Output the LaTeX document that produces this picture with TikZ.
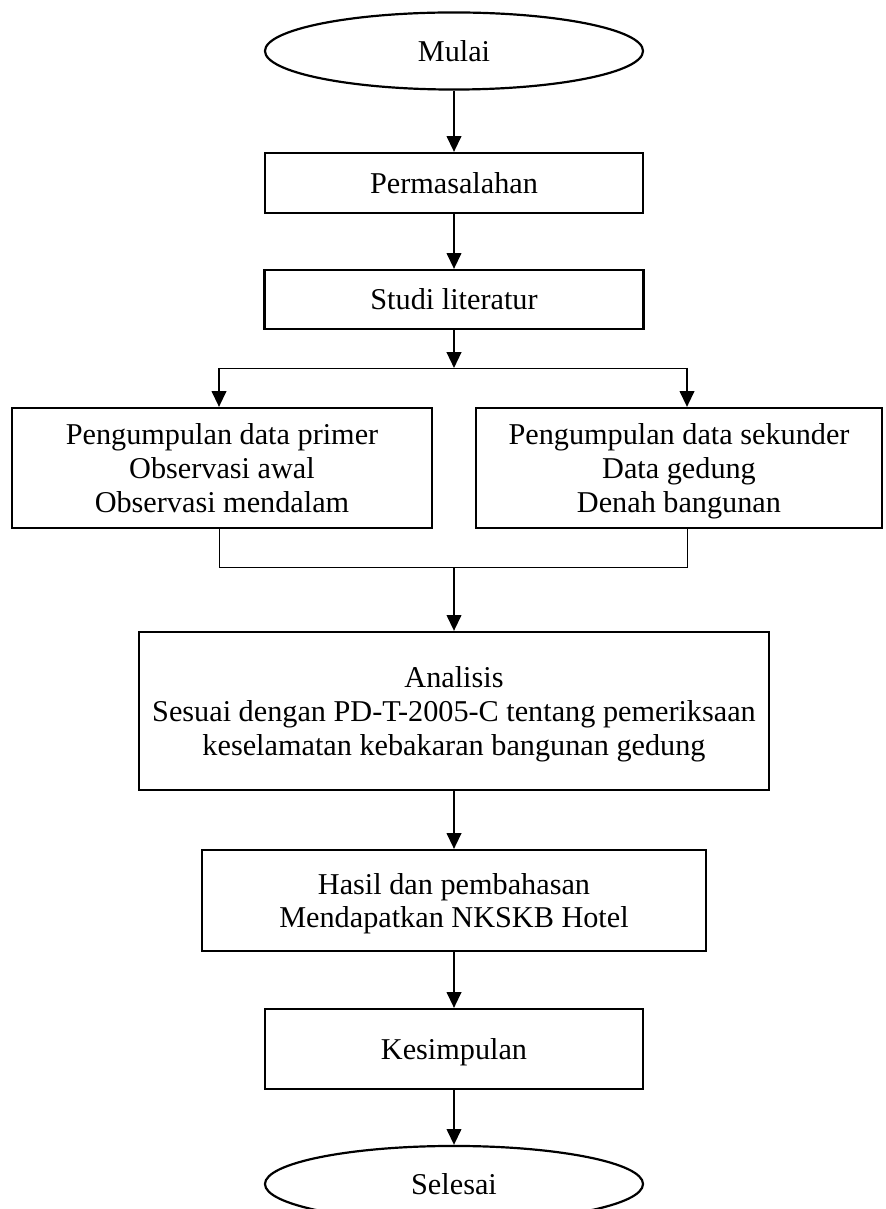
\documentclass[tikz,border=0pt]{standalone}
\usepackage{fontspec}
\setmainfont{Liberation Serif}
\usetikzlibrary{shapes.geometric,arrows.meta}

\begin{document}
\begin{tikzpicture}[x=0.41pt, y=-0.41pt,
	kotak/.style={draw, line width=0.9pt, align=center, inner sep=0pt, text depth=0pt, font=\fontsize{12.4}{13.8}\selectfont},
	elips/.style={kotak, ellipse},
	panah/.style={-{Triangle[length=6.5pt,width=6pt]}, line width=0.8pt},
	garis/.style={line width=0.4pt}]
	\useasboundingbox (0,0) rectangle (885,1209);

	\node[elips, minimum width=155pt, minimum height=31.6pt] (mulai) at (454,51) {Mulai};
	\node[kotak, minimum width=155pt, minimum height=24.6pt] (masalah) at (454,183) {Permasalahan};
	\node[kotak, minimum width=155.4pt, minimum height=24.2pt] (studi) at (454,299.5) {Studi literatur};

	\node[kotak, minimum width=172.2pt, minimum height=49.2pt] (primer) at (222,468) {Pengumpulan data primer\\Observasi awal\\Observasi mendalam};
	\node[kotak, minimum width=166.5pt, minimum height=49.2pt] (sekunder) at (679,468) {Pengumpulan data sekunder\\Data gedung\\Denah bangunan};

	\node[kotak, minimum width=258.3pt, minimum height=64.8pt] (analisis) at (454,711) {Analisis\\Sesuai dengan PD-T-2005-C tentang pemeriksaan\\keselamatan kebakaran bangunan gedung};
	\node[kotak, minimum width=206.6pt, minimum height=41.4pt] (hasil) at (454,900.5) {Hasil dan pembahasan\\Mendapatkan NKSKB Hotel};
	\node[kotak, minimum width=155pt, minimum height=32.8pt] (simpul) at (454,1049) {Kesimpulan};
	\node[elips, minimum width=155pt, minimum height=31.2pt] (selesai) at (454,1184) {Selesai};

	\coordinate (cabang) at (454,368);
	\coordinate (cabangkiri) at (219,368);
	\coordinate (cabangkanan) at (687,368);
	\coordinate (gabung) at (454,567);
	\coordinate (gabungkiri) at (219,567);
	\coordinate (gabungkanan) at (687,567);

	\draw[panah] (mulai) -- (masalah);
	\draw[panah] (masalah) -- (studi);
	\draw[panah] (studi) -- (cabang);
	\draw[garis] (cabangkiri) -- (cabangkanan);
	\draw[panah] (cabangkiri) -- (cabangkiri |- primer.north);
	\draw[panah] (cabangkanan) -- (cabangkanan |- sekunder.north);
	\draw[garis] (cabangkiri |- primer.south) -- (gabungkiri) -- (gabungkanan) -- (cabangkanan |- sekunder.south);
	\draw[panah] (gabung) -- (analisis);
	\draw[panah] (analisis) -- (hasil);
	\draw[panah] (hasil) -- (simpul);
	\draw[panah] (simpul) -- (selesai);
\end{tikzpicture}
\end{document}
